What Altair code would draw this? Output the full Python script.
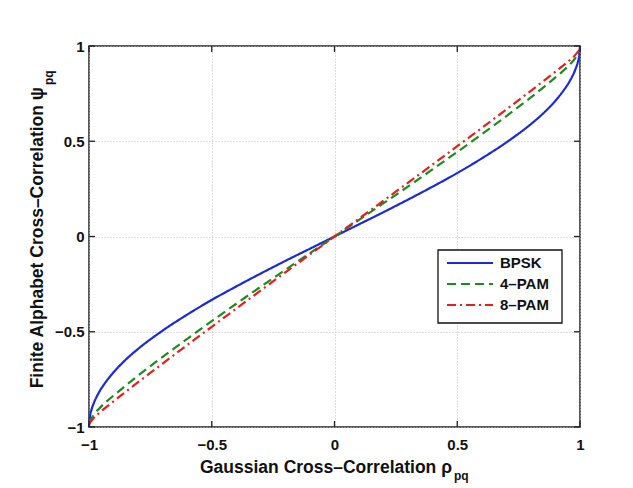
import altair as alt
import pandas as pd

# ---- data ----
series_names = ["BPSK", "4–PAM", "8–PAM"]
series_colors = ["#1b2bd0", "#1f8a1f", "#e02020"]

rho = [-1, -0.995, -0.99, -0.98, -0.96, -0.93, -0.9, -0.85, -0.8, -0.7, -0.6, -0.5,
       -0.4, -0.3, -0.2, -0.1, 0, 0.1, 0.2, 0.3, 0.4, 0.5, 0.6, 0.7, 0.8, 0.85,
       0.9, 0.93, 0.96, 0.98, 0.99, 0.995, 1]

bpsk = [-1, -0.936, -0.910, -0.873, -0.820, -0.761, -0.713, -0.646, -0.590, -0.494,
        -0.410, -0.333, -0.262, -0.194, -0.128, -0.064, 0, 0.064, 0.128, 0.194, 0.262,
        0.333, 0.410, 0.494, 0.590, 0.646, 0.713, 0.761, 0.820, 0.873, 0.910, 0.936, 1]

pam4 = [-0.98, -0.967, -0.955, -0.935, -0.905, -0.868, -0.835, -0.782, -0.730, -0.632,
        -0.537, -0.444, -0.353, -0.263, -0.175, -0.087, 0, 0.087, 0.175, 0.263, 0.353,
        0.444, 0.537, 0.632, 0.730, 0.782, 0.835, 0.868, 0.905, 0.935, 0.955, 0.967, 0.98]

pam8 = [-0.985, -0.976, -0.968, -0.952, -0.928, -0.896, -0.865, -0.815, -0.765, -0.667,
        -0.570, -0.474, -0.378, -0.283, -0.188, -0.094, 0, 0.094, 0.188, 0.283, 0.378,
        0.474, 0.570, 0.667, 0.765, 0.815, 0.865, 0.896, 0.928, 0.952, 0.968, 0.976, 0.985]

tick_values = [-1, -0.5, 0, 0.5, 1]

x_title = "Gaussian Cross–Correlation ρ"
y_title = "Finite Alphabet Cross–Correlation ψ"
sub_text = "pq"

# ---- build tables ----
rows = []
for name, vals in zip(series_names, [bpsk, pam4, pam8]):
    for i, (r, v) in enumerate(zip(rho, vals)):
        rows.append({"rho": r, "psi": v, "series": name, "order": i})
df = pd.DataFrame(rows)
ticks_df = pd.DataFrame({"t": tick_values})
legend_df = pd.DataFrame({"series": series_names})
one = pd.DataFrame({"k": [0]})

W, H = 491, 381
FONT = "Liberation Sans"
TL = 6

xs = alt.Scale(domain=[-1, 1], nice=False, zero=False)
ys = alt.Scale(domain=[-1, 1], nice=False, zero=False)
color_scale = alt.Scale(domain=series_names, range=series_colors)
dash_scale = alt.Scale(domain=series_names, range=[[1, 0], [9, 5], [9, 4, 2, 4]])

x_axis = alt.Axis(values=tick_values, format="~g", title=None, grid=True,
                  ticks=False, domain=False, labelPadding=10,
                  labelFlush=False, labelOverlap=False)
y_axis = alt.Axis(values=tick_values, format="~g", title=None, grid=True,
                  ticks=False, domain=False, labelPadding=5,
                  labelFlush=False, labelOverlap=False)

lines = alt.Chart(df).mark_line(strokeWidth=2.2, interpolate="monotone").encode(
    x=alt.X("rho:Q", scale=xs, axis=x_axis),
    y=alt.Y("psi:Q", scale=ys, axis=y_axis),
    color=alt.Color("series:N", scale=color_scale, legend=None),
    strokeDash=alt.StrokeDash("series:N", scale=dash_scale, legend=None),
    detail="series:N",
    order="order:Q",
)

tick_mark = dict(color="#222222", strokeWidth=1.3)
bottom_ticks = alt.Chart(ticks_df).mark_rule(**tick_mark).encode(
    x=alt.X("t:Q", scale=xs, axis=x_axis), y=alt.value(H), y2=alt.value(H - TL))
top_ticks = alt.Chart(ticks_df).mark_rule(**tick_mark).encode(
    x=alt.X("t:Q", scale=xs, axis=x_axis), y=alt.value(0), y2=alt.value(TL))
left_ticks = alt.Chart(ticks_df).mark_rule(**tick_mark).encode(
    y=alt.Y("t:Q", scale=ys, axis=None), x=alt.value(0), x2=alt.value(TL))
right_ticks = alt.Chart(ticks_df).mark_rule(**tick_mark).encode(
    y=alt.Y("t:Q", scale=ys, axis=None), x=alt.value(W), x2=alt.value(W - TL))

# ---- legend ----
leg_box = alt.Chart(one).mark_rect(fill="white", stroke="#111111", strokeWidth=1.3).encode(
    x=alt.value(349), x2=alt.value(473), y=alt.value(204), y2=alt.value(277))
leg_y = alt.Y("series:N", scale=alt.Scale(type="point", domain=series_names,
                                          range=[217, 259], padding=0), axis=None)
leg_lines = alt.Chart(legend_df).mark_rule(strokeWidth=2.2).encode(
    y=leg_y, x=alt.value(358), x2=alt.value(404),
    color=alt.Color("series:N", scale=color_scale, legend=None),
    strokeDash=alt.StrokeDash("series:N", scale=dash_scale, legend=None))
leg_text = alt.Chart(legend_df).mark_text(
    align="left", baseline="middle", font=FONT, fontWeight="bold", fontSize=15,
    color="#111111").encode(y=leg_y, x=alt.value(411), text="series:N")

# ---- axis titles with subscripts ----
tx = alt.Chart(one).mark_text(align="right", baseline="alphabetic", font=FONT,
                              fontWeight="bold", fontSize=17.5, color="#111111").encode(
    x=alt.value(363), y=alt.value(427), text=alt.value(x_title))
tx_sub = alt.Chart(one).mark_text(align="left", baseline="alphabetic", font=FONT,
                                  fontWeight="bold", fontSize=12, color="#111111").encode(
    x=alt.value(365), y=alt.value(434), text=alt.value(sub_text))
ty = alt.Chart(one).mark_text(align="right", baseline="middle", angle=270, font=FONT,
                              fontWeight="bold", fontSize=17.5, color="#111111").encode(
    x=alt.value(-51), y=alt.value(41), text=alt.value(y_title))
ty_sub = alt.Chart(one).mark_text(align="left", baseline="middle", angle=270, font=FONT,
                                  fontWeight="bold", fontSize=12, color="#111111").encode(
    x=alt.value(-40), y=alt.value(39), text=alt.value(sub_text))

chart = alt.layer(
    lines, bottom_ticks, top_ticks, left_ticks, right_ticks,
    leg_box, leg_lines, leg_text, tx, tx_sub, ty, ty_sub
).resolve_scale(y="independent").properties(
    width=W, height=H,
    autosize=alt.AutoSizeParams(type="none"),
    padding={"left": 81, "top": 38, "right": 45, "bottom": 62},
    background="white",
).configure_view(
    stroke="#222222", strokeWidth=1.5
).configure_axis(
    labelFont=FONT, labelFontWeight="bold", labelFontSize=15, labelColor="#111111",
    gridColor="#bdbdbd", gridDash=[1, 2], gridWidth=1
)

chart.save("out.html", embed_options={"renderer": "svg", "actions": False})
